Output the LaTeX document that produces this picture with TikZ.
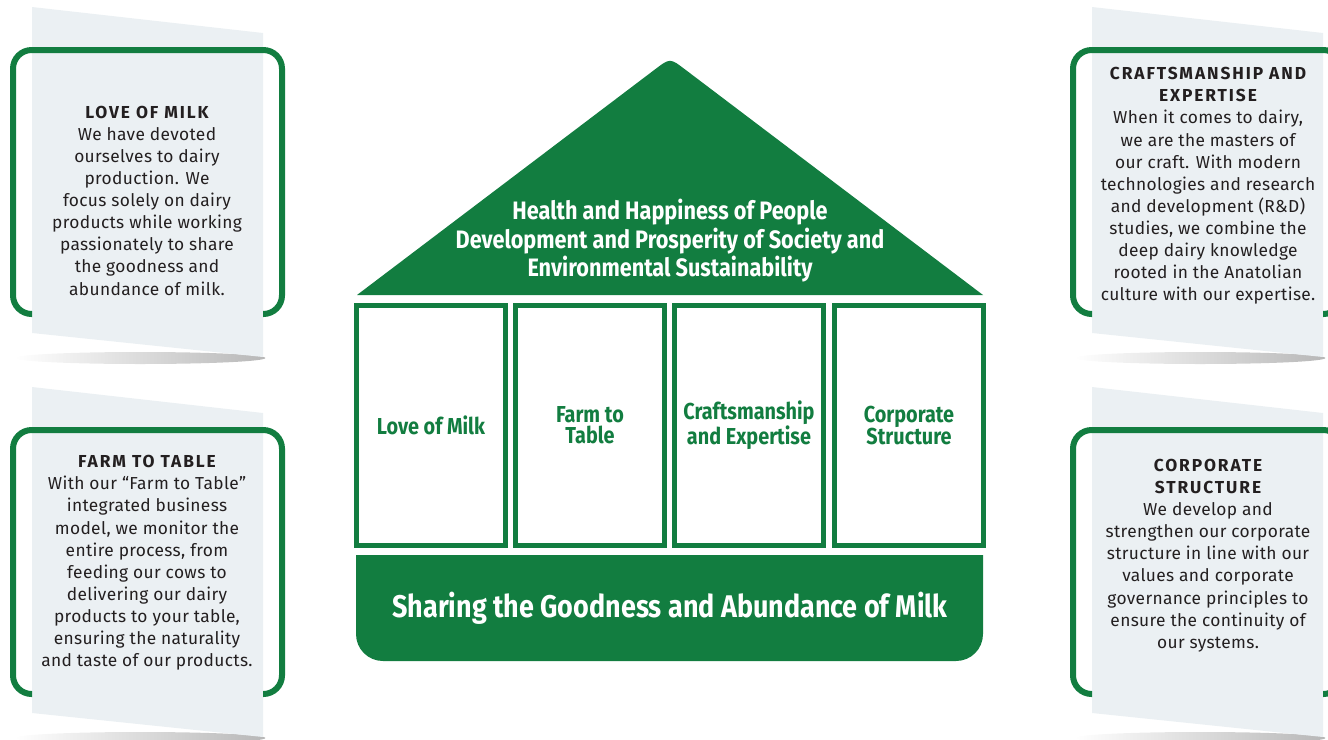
\documentclass[tikz,border=0pt]{standalone}
\usepackage{fontspec}
\setmainfont{Fira Sans}
\newfontfamily\bodyfont[LetterSpace=2]{Fira Sans}
\newfontfamily\titlefont[LetterSpace=11]{Fira Sans}
\newfontfamily\condfont[FakeStretch=0.86]{Fira Sans}
\definecolor{brandgreen}{HTML}{127D40}
\definecolor{panel}{HTML}{EBF0F3}
\definecolor{textdark}{HTML}{231F20}
\begin{document}
\begin{tikzpicture}[x=0.75pt,y=-0.75pt,
  frame/.style={draw=brandgreen,line width=4.5pt},
  cardtxt/.style={font=\bodyfont\fontsize{13}{16.6}\selectfont, text=textdark, align=center, inner sep=0pt},
  pillar/.style={draw=brandgreen, line width=3.75pt, fill=white, minimum width=111.75pt, minimum height=180pt,
    text=brandgreen, font=\condfont\bfseries\fontsize{17.3}{15.5}\selectfont, align=center, inner sep=0pt},
  rooftxt/.style={text=white, font=\condfont\bfseries\fontsize{18.9}{21.4}\selectfont, align=center, inner sep=0pt},
  basetxt/.style={text=white, font=\condfont\bfseries\fontsize{23.5}{26}\selectfont, align=center, inner sep=0pt}]
\useasboundingbox (0,0) rectangle (1328,739);
\clip (0,0) rectangle (1328,739);

% cards
\foreach \dx/\dy in {0/0,0/380,1060/0,1060/380}{
\begin{scope}[shift={(\dx,\dy)}]
  \shade[left color=white, right color=black!28] (140,358) ellipse [x radius=94pt, y radius=4.5pt];
  \fill[panel] (32,7) -- (263,33) -- (263,357) -- (32,333) -- cycle;
  \draw[frame, rounded corners=14pt] (32,314) -- (13,314) -- (13,50) -- (282,50) -- (282,314) -- (263,314);
\end{scope}
}

\node[cardtxt] (t1) at (147,200.5) {{\titlefont\bfseries LOVE OF MILK}\\We have devoted\\ourselves to dairy\\production. We\\focus solely on dairy\\products while working\\passionately to share\\the goodness and\\abundance of milk.};
\node[cardtxt] (t2) at (147,563) {{\titlefont\bfseries FARM TO TABLE}\\With our “Farm to Table”\\integrated business\\model, we monitor the\\entire process, from\\feeding our cows to\\delivering our dairy\\products to your table,\\ensuring the naturality\\and taste of our products.};
\node[cardtxt] (t3) at (1208,186) {{\titlefont\bfseries CRAFTSMANSHIP AND}\\{\titlefont\bfseries EXPERTISE}\\When it comes to dairy,\\we are the masters of\\our craft. With modern\\technologies and research\\and development (R\&D)\\studies, we combine the\\deep dairy knowledge\\rooted in the Anatolian\\culture with our expertise.};
\node[cardtxt] (t4) at (1208,555.5) {{\titlefont\bfseries CORPORATE}\\{\titlefont\bfseries STRUCTURE}\\We develop and\\strengthen our corporate\\structure in line with our\\values and corporate\\governance principles to\\ensure the continuity of\\our systems.};

% roof
\fill[brandgreen] (357,295) -- (655,69.4) .. controls (670,58) .. (685,69.4) -- (983,295) -- cycle;
\node[rooftxt] (roof) at (670,241) {Health and Happiness of People\\Development and Prosperity of Society and\\Environmental Sustainability};

% pillars
\node[pillar] (p1) at (431,425.5) {Love of Milk};
\node[pillar] (p2) at (590,425.5) {Farm to\\Table};
\node[pillar] (p3) at (749,425.5) {Craftsmanship\\and Expertise};
\node[pillar] (p4) at (909,425.5) {Corporate\\Structure};

% base
\fill[brandgreen] (356,555) -- (983,555) -- (983,634) .. controls (983,649) and (971,661) .. (956,661) -- (383,661) .. controls (368,661) and (356,649) .. (356,634) -- cycle;
\node[basetxt] (base) at (670,608) {Sharing the Goodness and Abundance of Milk};
\end{tikzpicture}
\end{document}
